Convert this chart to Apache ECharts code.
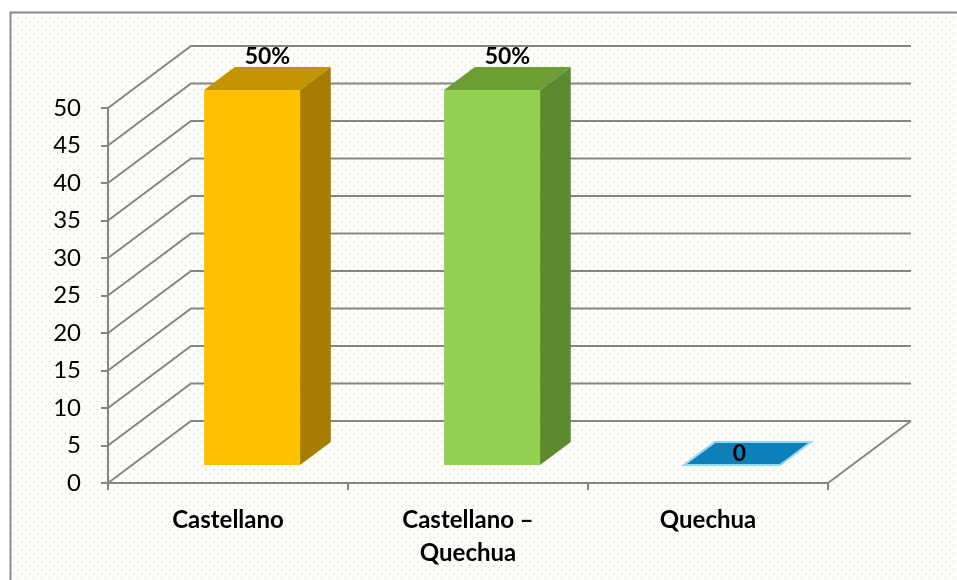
<!DOCTYPE html>
<html>
<head>
<meta charset="utf-8">
<script src="https://cdn.jsdelivr.net/npm/echarts@6/dist/echarts.min.js"></script>
<style>html,body{margin:0;padding:0;background:#fff}#c{width:957px;height:580px}</style>
</head>
<body>
<div id="c"></div>
<script>
// ---- data ----
const categories = ['Castellano', 'Castellano –\nQuechua', 'Quechua'];
const values = [50, 50, 0];
const valueLabels = ['50%', '50%', '0'];
const yTicks = [0, 5, 10, 15, 20, 25, 30, 35, 40, 45, 50];

// ---- style ----
const DX = 83, DY = -62;          // depth offset of the back wall
const F = 0.29, B = 0.66;         // bar front/back depth fractions
const frontCol = ['#FFC000', '#92D050', '#0E7FB8'];
const sideCol  = ['#A67D00', '#5E8A2F', '#0A6A9A'];
const topCol   = ['#C39400', '#6C9E35', '#0E7FB8'];
const gridCol = '#858585';
const FONT = 'Lato';

// dotted background pattern
const pc = document.createElement('canvas');
pc.width = 8; pc.height = 8;
const g = pc.getContext('2d');
g.fillStyle = '#fdfdfa'; g.fillRect(0, 0, 8, 8);
g.fillStyle = '#dededa';
g.fillRect(1, 1, 1.5, 1.5);
g.fillRect(5, 5, 1.5, 1.5);

const chart = echarts.init(document.getElementById('c'), null, {renderer: 'canvas'});

function gridItem(params, api) {
  const v = api.value(1);
  const band = api.size([1, 0])[0];
  const p0 = api.coord([0, v]);
  const pR = api.coord([categories.length - 1, v]);
  const xL = p0[0] - band / 2, y = p0[1];
  const xR = pR[0] + band / 2;
  const children = [{
    type: 'polyline',
    shape: {points: [[xL, y], [xL + DX, y + DY], [xR + DX, y + DY]]},
    style: {stroke: gridCol, lineWidth: 2, fill: null}
  }];
  if (v === 0) {
    children.push({
      type: 'line',
      shape: {x1: xR, y1: y, x2: xR + DX, y2: y + DY},
      style: {stroke: gridCol, lineWidth: 2}
    });
  }
  return {type: 'group', children};
}

function barItem(params, api) {
  const ci = api.value(0), v = api.value(1);
  const band = api.size([1, 0])[0];
  const base = api.coord([ci, 0]);
  const top = api.coord([ci, v]);
  const w = band * 0.4;
  const fx = base[0] + F * DX;
  const y0 = base[1] + F * DY;
  const y1 = top[1] + F * DY;
  const x0 = fx - w / 2, x1 = fx + w / 2;
  const ddx = (B - F) * DX, ddy = (B - F) * DY;
  const children = [];
  const lbl = valueLabels[ci];
  if (v > 0) {
    children.push({type: 'polygon', shape: {points: [[x1, y0], [x1 + ddx, y0 + ddy], [x1 + ddx, y1 + ddy], [x1, y1]]}, style: {fill: sideCol[ci]}});
    children.push({type: 'polygon', shape: {points: [[x0, y1], [x1, y1], [x1 + ddx, y1 + ddy], [x0 + ddx, y1 + ddy]]}, style: {fill: topCol[ci]}});
    children.push({type: 'rect', shape: {x: x0, y: y1, width: w, height: y0 - y1}, style: {fill: frontCol[ci]}});
    children.push({type: 'text', style: {text: lbl, x: fx + ddx / 2, y: y1 + ddy + 1, align: 'center', verticalAlign: 'bottom', font: 'bold 23px ' + FONT, fill: '#000'}});
  } else {
    children.push({type: 'polygon', shape: {points: [[x0, y0], [x1, y0], [x1 + ddx, y0 + ddy], [x0 + ddx, y0 + ddy]]}, style: {fill: topCol[ci], stroke: '#8FD8F5', lineWidth: 2}});
    children.push({type: 'text', style: {text: lbl, x: fx + ddx / 2 - 8, y: y0 + ddy / 2, align: 'center', verticalAlign: 'middle', font: 'bold 23px ' + FONT, fill: '#000'}});
  }
  return {type: 'group', children};
}

chart.setOption({
  backgroundColor: '#ffffff',
  animation: false,
  graphic: [{
    type: 'rect', z: -10, silent: true,
    shape: {x: 10.5, y: 12.5, width: 1000, height: 700},
    style: {fill: {image: pc, repeat: 'repeat'}, stroke: '#8a8a8a', lineWidth: 2}
  }],
  grid: {left: 108, right: 129, top: 108, bottom: 97},
  xAxis: {
    type: 'category',
    data: categories,
    boundaryGap: true,
    axisLine: {lineStyle: {color: gridCol, width: 2}},
    axisTick: {show: true, length: 7, alignWithLabel: false, lineStyle: {color: gridCol, width: 2}},
    axisLabel: {margin: 21, color: '#000', fontFamily: FONT, fontWeight: 'bold', fontSize: 24, lineHeight: 33},
    splitLine: {show: false}
  },
  yAxis: {
    type: 'value',
    min: 0, max: 50, interval: 5,
    axisLine: {show: true, lineStyle: {color: gridCol, width: 2}},
    axisTick: {show: true, length: 7, lineStyle: {color: gridCol, width: 2}},
    axisLabel: {margin: 27, color: '#000', fontFamily: FONT, fontSize: 24},
    splitLine: {show: false}
  },
  series: [
    {type: 'custom', renderItem: gridItem, data: yTicks.map(v => [0, v]), z: 1, silent: true},
    {type: 'custom', renderItem: barItem, data: values.map((v, i) => [i, v]), z: 3, silent: true}
  ]
});
</script>
</body>
</html>
